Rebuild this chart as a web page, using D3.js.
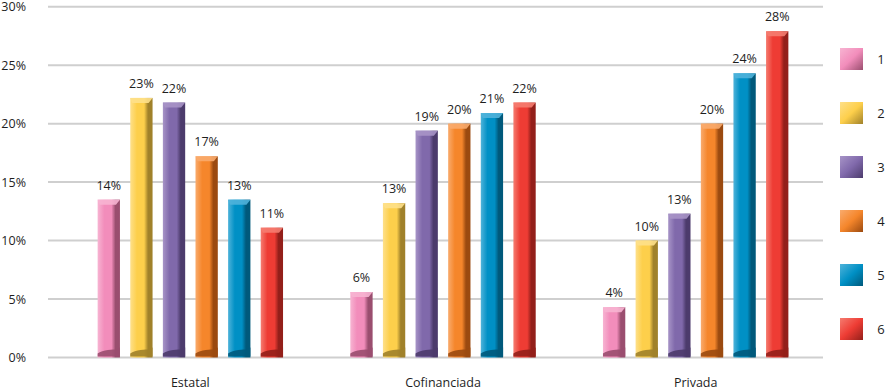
<!DOCTYPE html>
<html>
<head>
<meta charset="utf-8">
<script src="https://cdn.jsdelivr.net/npm/d3@7"></script>
<style>
  body { margin: 0; background: #fff; }
  text { font-family: "Open Sans", "Noto Sans", sans-serif; fill: #1e1e1e; }
</style>
</head>
<body>
<svg id="chart" width="887" height="390"></svg>
<script>
var categories = ["Estatal", "Cofinanciada", "Privada"]
  , series = ["1", "2", "3", "4", "5", "6"]
  , yTicks = [0, 5, 10, 15, 20, 25, 30]

// values per category, one per series (percent)
var estatal      = [13.5, 22.2, 21.8, 17.2, 13.5, 11.1]
  , cofinanciada = [5.6, 13.2, 19.4, 20.0, 20.9, 21.8]
  , privada      = [4.3, 10.0, 12.3, 20.0, 24.3, 27.9]

// labels as printed over the bars
var estatalLabels      = ["14%", "23%", "22%", "17%", "13%", "11%"]
  , cofinanciadaLabels = ["6%", "13%", "19%", "20%", "21%", "22%"]
  , privadaLabels      = ["4%", "10%", "13%", "20%", "24%", "28%"]

var colors = ["#f28dbb", "#fdcf4b", "#8069ab", "#f5862b", "#0090c5", "#ee3c34"]
  , darks  = ["#9a4e6f", "#a0812a", "#4c3b6c", "#9b4a10", "#00597b", "#931f1a"]
  , lights = ["#f7b4d2", "#fee08a", "#a794c7", "#f9ab6d", "#4fb3da", "#f57c70"]

var values = [estatal, cofinanciada, privada]
  , labels = [estatalLabels, cofinanciadaLabels, privadaLabels]

var svg = d3.select("#chart")

var x0 = d3.scaleBand().domain(categories).range([64, 822])
var x1 = d3.scaleBand().domain(series).range([-92.7, 92.7]).paddingInner(0.316)
var y = d3.scaleLinear().domain([0, 30]).range([357.5, 6.7])

var defs = svg.append("defs")
series.forEach(function(s, i) {
  var g = defs.append("linearGradient").attr("id", "g" + i)
      .attr("x1", "0").attr("x2", "1").attr("y1", "0").attr("y2", "0")
  g.append("stop").attr("offset", "0").attr("stop-color", lights[i])
  g.append("stop").attr("offset", "0.3").attr("stop-color", colors[i])
  g.append("stop").attr("offset", "0.62").attr("stop-color", colors[i])
  g.append("stop").attr("offset", "0.8").attr("stop-color", darks[i])
  g.append("stop").attr("offset", "1").attr("stop-color", darks[i])

  var lg = defs.append("linearGradient").attr("id", "lg" + i)
      .attr("x1", "0").attr("x2", "1").attr("y1", "0").attr("y2", "1")
  lg.append("stop").attr("offset", "0").attr("stop-color", lights[i])
  lg.append("stop").attr("offset", "0.5").attr("stop-color", colors[i])
  lg.append("stop").attr("offset", "1").attr("stop-color", darks[i])
})

// grid
svg.append("g").selectAll("line")
  .data(yTicks)
 .enter().append("line")
  .attr("x1", 48).attr("x2", 823)
  .attr("y1", function(d) { return y(d) }).attr("y2", function(d) { return y(d) })
  .style("stroke", "#cfcfcf").style("stroke-width", 2)

svg.append("g").selectAll("text")
  .data(yTicks)
 .enter().append("text")
  .attr("x", 26).attr("y", function(d) { return y(d) + 4.5 })
  .attr("text-anchor", "end")
  .style("font-size", "12.5px")
  .text(function(d) { return d + "%" })

// bars
var groups = svg.selectAll(".grp")
  .data(categories)
 .enter().append("g")
  .attr("class", "grp")
  .attr("transform", function(d) { return "translate(" + (x0(d) + x0.bandwidth() / 2) + ",0)" })

groups.each(function(cat, ci) {
  var g = d3.select(this)
  var rows = series.map(function(s, i) { return {s: s, i: i, v: values[ci][i], label: labels[ci][i]} })

  var bar = g.selectAll(".bar").data(rows).enter().append("g").attr("class", "bar")
  bar.append("rect")
    .attr("x", function(d) { return x1(d.s) })
    .attr("y", function(d) { return y(d.v) })
    .attr("width", x1.bandwidth())
    .attr("height", function(d) { return y(0) - y(d.v) })
    .style("fill", function(d) { return "url(#g" + d.i + ")" })
  // top highlight cap
  bar.append("path")
    .attr("d", function(d) {
      var l = x1(d.s), r = l + x1.bandwidth(), t = y(d.v)
      return "M" + l + "," + t + "H" + r + "L" + (r - 4) + "," + (t + 5) + "H" + (l + 2) + "Z"
    })
    .style("fill", function(d) { return lights[d.i] })
    .style("opacity", 0.9)
  // bottom shadow
  bar.append("path")
    .attr("d", function(d) {
      var l = x1(d.s), r = l + x1.bandwidth(), b = y(0) - 1
      return "M" + l + "," + b + "V" + (b - 3) + "C" + (l + 5) + "," + (b - 7) + " " + (r - 6) + "," + (b - 7) + " " + (r - 4) + "," + (b - 7) + "L" + r + "," + (b - 9) + "V" + b + "Z"
    })
    .style("fill", function(d) { return darks[d.i] })
    .style("opacity", 0.9)

  bar.append("text")
    .attr("x", function(d) { return x1(d.s) + x1.bandwidth() / 2 })
    .attr("y", function(d) { return y(d.v) - 10 })
    .attr("text-anchor", "middle")
    .style("font-size", "12.5px")
    .text(function(d) { return d.label })

  g.append("text")
    .attr("x", 0).attr("y", 387)
    .attr("text-anchor", "middle")
    .style("font-size", "12.5px")
    .text(cat)
})

// legend
var legend = svg.append("g").selectAll("g")
  .data(series)
 .enter().append("g")
  .attr("transform", function(d, i) { return "translate(840," + (48 + i * 54) + ")" })

legend.append("rect")
  .attr("width", 23).attr("height", 22)
  .style("fill", function(d, i) { return "url(#lg" + i + ")" })

legend.append("text")
  .attr("x", 41).attr("y", 16)
  .attr("text-anchor", "middle")
  .style("font-size", "13px")
  .text(function(d) { return d })
</script>
</body>
</html>
